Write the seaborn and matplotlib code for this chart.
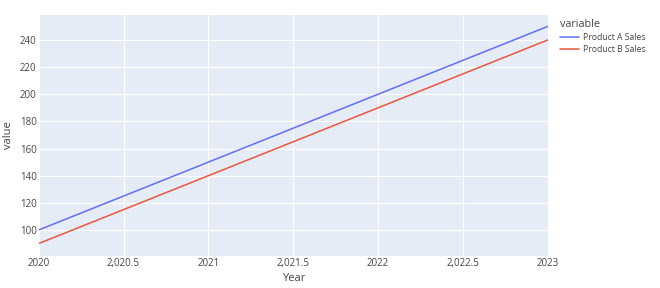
import matplotlib
matplotlib.use("Agg")
import matplotlib.pyplot as plt
import matplotlib.ticker as mticker
import seaborn as sns
import pandas as pd

years = [2020, 2021, 2022, 2023]
product_a = [100, 150, 200, 250]
product_b = [90, 140, 190, 240]
series_names = ["Product A Sales", "Product B Sales"]
colors = ["#636EFA", "#EF553B"]

df = pd.DataFrame({"Year": years, series_names[0]: product_a, series_names[1]: product_b})
long = df.melt(id_vars="Year", var_name="variable", value_name="value")

sns.set_theme(style="darkgrid")
plt.rcParams["font.family"] = ["Open Sans", "DejaVu Sans"]

fig = plt.figure(figsize=(6.6, 2.88), dpi=100)
ax = fig.add_axes([0.0586, 0.111, 0.830 - 0.0586, 0.948 - 0.111])
ax.set_facecolor("#E5ECF6")

sns.lineplot(data=long, x="Year", y="value", hue="variable", palette=colors,
             ax=ax, linewidth=1.1, legend=True)

ax.set_xlim(2020, 2023)
ax.set_ylim(80.8, 258.4)
ax.set_xticks([2020, 2020.5, 2021, 2021.5, 2022, 2022.5, 2023])

def fmt(v, pos):
    if float(v).is_integer():
        return f"{int(v)}"
    return f"{v:,.1f}"

ax.xaxis.set_major_formatter(mticker.FuncFormatter(fmt))
ax.set_yticks([100, 120, 140, 160, 180, 200, 220, 240])
ax.grid(True, color="white", linewidth=0.8)
for s in ax.spines.values():
    s.set_visible(False)
ax.tick_params(axis="both", labelsize=7.0, colors="#444444", length=0)
ax.tick_params(axis="x", pad=1.5)
ax.tick_params(axis="y", pad=1.5)
ax.set_xlabel("Year", fontsize=8.0, color="#444444")
ax.set_ylabel("value", fontsize=8.0, color="#444444")
ax.xaxis.set_label_coords(0.5, -0.095)
ax.yaxis.set_label_coords(-0.060, 0.5)
ax.xaxis.label.set_va("center")
ax.yaxis.label.set_va("center")

leg = ax.legend(title="variable", loc="upper left", bbox_to_anchor=(0.848, 0.935),
                bbox_transform=fig.transFigure, frameon=False, fontsize=6.2,
                title_fontsize=7.8, handlelength=2.2, labelspacing=0.35,
                borderaxespad=0, handletextpad=0.5, borderpad=0)
leg._legend_box.align = "left"
for t in leg.get_texts():
    t.set_color("#444444")
leg.get_title().set_color("#444444")

fig.savefig("out.png", dpi=100, facecolor="white")
